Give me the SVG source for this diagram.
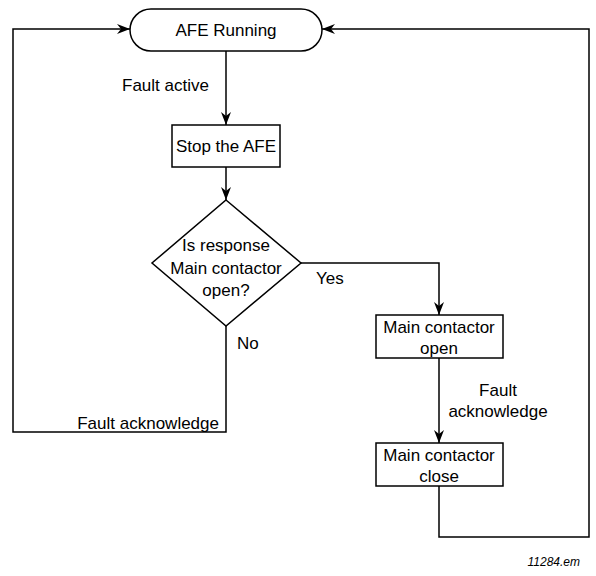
<svg xmlns="http://www.w3.org/2000/svg" width="596" height="576" viewBox="0 0 596 576">
<style>
.s{fill:#fff;stroke:#000;stroke-width:1.5}
.c{fill:none;stroke:#000;stroke-width:1.5}
text{font-family:"Liberation Sans",Arial,sans-serif;font-size:17px;fill:#000}
.m{text-anchor:middle}
.f{font-size:12px;font-style:italic;text-anchor:end}
</style>
<defs>
<marker id="a" markerWidth="14" markerHeight="10" refX="13" refY="5" orient="auto" markerUnits="userSpaceOnUse">
<path d="M0,0 L13,5 L0,10 L4,5 z" fill="#000"/>
</marker>
</defs>
<g id="connectors">
<path class="c" d="M226,51 V125" marker-end="url(#a)"/>
<path class="c" d="M226,167 V200" marker-end="url(#a)"/>
<path class="c" d="M301,263 H439 V315" marker-end="url(#a)"/>
<path class="c" d="M439,358 V443" marker-end="url(#a)"/>
<path class="c" d="M226,326 V432 H13 V29 H130" marker-end="url(#a)"/>
<path class="c" d="M439,486 V537 H589 V29 H322" marker-end="url(#a)"/>
</g>
<g id="labels">
<text x="122" y="91">Fault active</text>
<text x="316" y="284">Yes</text>
<text x="237" y="349">No</text>
<text x="219" y="429" text-anchor="end">Fault acknowledge</text>
<text x="498" y="396" class="m">Fault</text>
<text x="498" y="417" class="m">acknowledge</text>
</g>
<g id="afe-running">
<rect class="s" x="130" y="9" width="192" height="42" rx="21"/>
<text x="226" y="36" class="m">AFE Running</text>
</g>
<g id="stop-afe">
<rect class="s" x="172" y="125" width="108" height="42"/>
<text x="226" y="152" class="m">Stop the AFE</text>
</g>
<g id="decision">
<polygon class="s" points="226,200 301,263 226,326 152,263"/>
<text x="226" y="251" class="m">Is response</text>
<text x="226" y="274" class="m">Main contactor</text>
<text x="226" y="296" class="m">open?</text>
</g>
<g id="mc-open">
<rect class="s" x="376" y="315" width="127" height="43"/>
<text x="439" y="333" class="m">Main contactor</text>
<text x="439" y="354" class="m">open</text>
</g>
<g id="mc-close">
<rect class="s" x="376" y="443" width="127" height="43"/>
<text x="439" y="461" class="m">Main contactor</text>
<text x="439" y="482" class="m">close</text>
</g>
<text x="580" y="566" class="f">11284.em</text>
</svg>
